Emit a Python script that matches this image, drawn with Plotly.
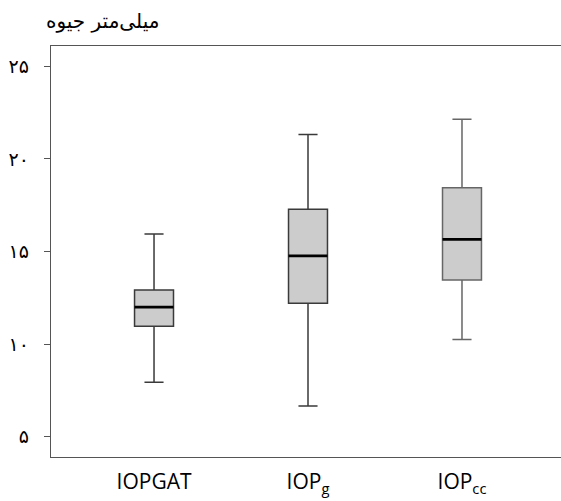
import plotly.graph_objects as go

categories = ["IOPGAT", "IOP<sub>g</sub>", "IOP<sub>cc</sub>"]
lower = [7.95, 6.66, 10.25]
q1 = [10.97, 12.21, 13.46]
median = [12.0, 14.77, 15.66]
q3 = [12.93, 17.28, 18.45]
upper = [15.95, 21.32, 22.15]
y_ticks = [5, 10, 15, 20, 25]
y_tick_labels = ["۵", "۱۰", "۱۵", "۲۰", "۲۵"]
y_title = "میلی‌متر جیوه"

line_colors = ["#3a3a3a", "#3a3a3a", "#666666"]
box_w = 0.253
pos = list(range(len(categories)))

fig = go.Figure()
for i, c in enumerate(categories):
    fig.add_trace(go.Box(
        x=[pos[i]], q1=[q1[i]], median=[median[i]], q3=[q3[i]],
        lowerfence=[lower[i]], upperfence=[upper[i]],
        width=box_w, whiskerwidth=0.49,
        fillcolor="#cccccc", line=dict(color=line_colors[i], width=1.5),
        showlegend=False, hoverinfo="skip", boxpoints=False,
    ))
    fig.add_trace(go.Scatter(
        x=[pos[i] - box_w / 2, pos[i] + box_w / 2], y=[median[i], median[i]],
        mode="lines", line=dict(color="#000000", width=2.6),
        showlegend=False, hoverinfo="skip",
    ))

fig.update_layout(
    width=561, height=501,
    margin=dict(l=51, r=0, t=46, b=44, autoexpand=False),
    paper_bgcolor="white", plot_bgcolor="white",
    font=dict(family="DejaVu Sans", color="black"),
    annotations=[dict(
        text=y_title, xref="paper", yref="paper", x=0.1, y=1.0,
        xanchor="center", yanchor="bottom", yshift=11,
        showarrow=False, font=dict(family="DejaVu Sans", size=20, color="black"),
    )],
)
fig.update_xaxes(
    range=[-0.669, 2.643], tickvals=pos, ticktext=categories,
    showline=True, mirror=True, linecolor="#555555", linewidth=1.4,
    ticks="", showgrid=False, zeroline=False, automargin=False,
    tickfont=dict(family="Open Sans", size=21, color="black"),
    ticklabelstandoff=6,
)
fig.update_yaxes(
    range=[3.91, 26.1], tickvals=y_ticks, ticktext=y_tick_labels,
    showline=True, mirror=False, linecolor="#555555", linewidth=1.4,
    ticks="outside", ticklen=6, tickcolor="#555555", tickwidth=1,
    showgrid=False, zeroline=False, automargin=False,
    tickfont=dict(family="DejaVu Sans", size=19, color="black"),
    ticklabelstandoff=11,
)
fig.write_html(
    "out.html",
    config={"displayModeBar": False},
    post_script="document.body.style.margin='0';document.body.style.overflow='hidden';",
)
